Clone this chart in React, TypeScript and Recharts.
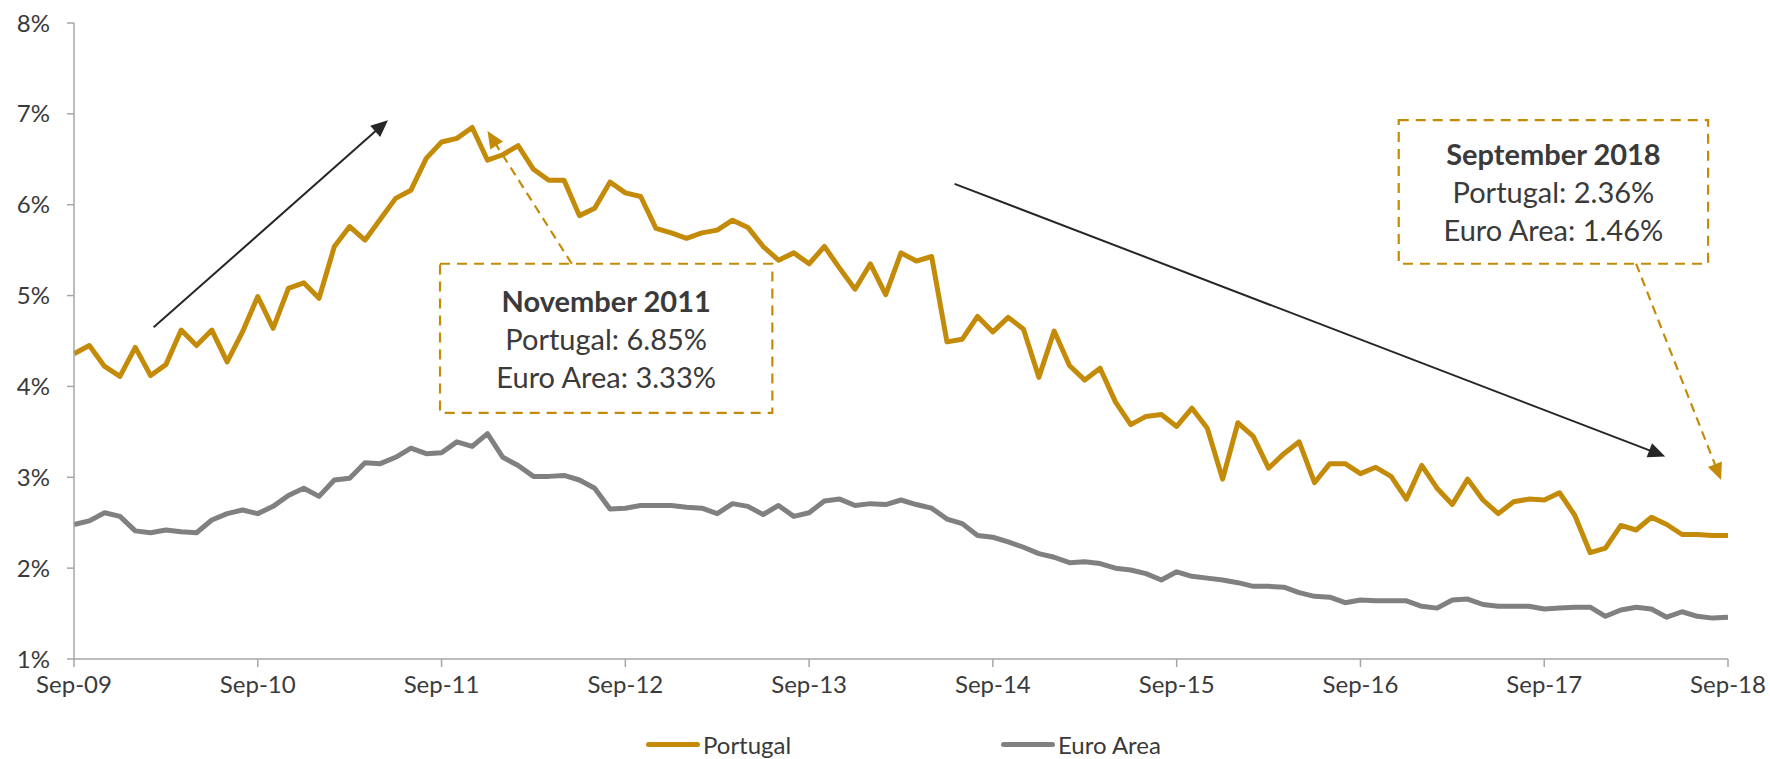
import { LineChart, Line, XAxis, YAxis, ReferenceLine, ReferenceArea, Legend } from 'recharts'

// monthly, Sep-09 .. Sep-18 (109 points)
const X_TICK_LABELS = ['Sep-09', 'Sep-10', 'Sep-11', 'Sep-12', 'Sep-13', 'Sep-14', 'Sep-15', 'Sep-16', 'Sep-17', 'Sep-18']
const Y_TICKS = [1, 2, 3, 4, 5, 6, 7, 8]

const PORTUGAL = [
  4.36, 4.45, 4.22, 4.11, 4.43, 4.12, 4.24, 4.62, 4.45, 4.62, 4.27, 4.60, 4.99, 4.64, 5.08, 5.14, 4.97, 5.54, 5.76,
  5.61, 5.84, 6.07, 6.16, 6.51, 6.69, 6.73, 6.85, 6.49, 6.55, 6.65, 6.39, 6.27, 6.27, 5.88, 5.96, 6.25, 6.13,
  6.09, 5.74, 5.69, 5.63, 5.69, 5.72, 5.83, 5.75, 5.54, 5.39, 5.47, 5.35, 5.54, 5.30, 5.07, 5.35, 5.01, 5.47,
  5.38, 5.43, 4.49, 4.52, 4.77, 4.60, 4.76, 4.63, 4.10, 4.61, 4.23, 4.07, 4.20, 3.83, 3.58, 3.67, 3.69, 3.56,
  3.76, 3.54, 2.98, 3.60, 3.45, 3.10, 3.26, 3.39, 2.94, 3.15, 3.15, 3.04, 3.11, 3.01, 2.76, 3.13, 2.88, 2.70, 2.98,
  2.75, 2.60, 2.73, 2.76, 2.75, 2.83, 2.58, 2.17, 2.22, 2.47, 2.42, 2.56, 2.48, 2.37, 2.37, 2.36, 2.36,
]

const EURO_AREA = [
  2.48, 2.52, 2.61, 2.57, 2.41, 2.39, 2.42, 2.40, 2.39, 2.53, 2.60, 2.64, 2.60, 2.68, 2.80, 2.88, 2.79, 2.97, 2.99,
  3.16, 3.15, 3.22, 3.32, 3.26, 3.27, 3.39, 3.34, 3.48, 3.22, 3.13, 3.01, 3.01, 3.02, 2.97, 2.88, 2.65, 2.66,
  2.69, 2.69, 2.69, 2.67, 2.66, 2.60, 2.71, 2.68, 2.59, 2.69, 2.57, 2.61, 2.74, 2.76, 2.69, 2.71, 2.70, 2.75,
  2.70, 2.66, 2.54, 2.49, 2.36, 2.34, 2.29, 2.23, 2.16, 2.12, 2.06, 2.07, 2.05, 2.00, 1.98, 1.94, 1.87, 1.96,
  1.91, 1.89, 1.87, 1.84, 1.80, 1.80, 1.79, 1.73, 1.69, 1.68, 1.62, 1.65, 1.64, 1.64, 1.64, 1.58, 1.56, 1.65, 1.66,
  1.60, 1.58, 1.58, 1.58, 1.55, 1.56, 1.57, 1.57, 1.47, 1.54, 1.57, 1.55, 1.46, 1.52, 1.47, 1.45, 1.46,
]

const GOLD = '#C48B09'
const GREY = '#808080'
const TEXT = '#3a3a3a'
const FONT = 'Lato, "Open Sans", sans-serif'

const SERIES = [
  { key: 'portugal', name: 'Portugal', color: GOLD },
  { key: 'euro', name: 'Euro Area', color: GREY },
]

// annotations, in data units (month index, %)
const CALLOUTS = [
  { x1: 23.9, x2: 45.6, y1: 3.71, y2: 5.35, title: 'November 2011', lines: ['Portugal: 6.85%', 'Euro Area: 3.33%'] },
  { x1: 86.5, x2: 106.7, y1: 5.35, y2: 6.93, title: 'September 2018', lines: ['Portugal: 2.36%', 'Euro Area: 1.46%'] },
]
const TREND_ARROWS = [
  [{ x: 5.2, y: 4.65 }, { x: 20.5, y: 6.93 }],
  [{ x: 57.5, y: 6.23 }, { x: 103.9, y: 3.23 }],
]
const POINTER_ARROWS = [
  [{ x: 32.5, y: 5.35 }, { x: 27.0, y: 6.81 }],
  [{ x: 102.0, y: 5.35 }, { x: 107.55, y: 2.97 }],
]

const data = PORTUGAL.map((p, i) => ({ i, portugal: p, euro: EURO_AREA[i] }))
const xTicks = X_TICK_LABELS.map((_, k) => k * 12)

function Arrow({ x1, y1, x2, y2, color, width, dash }: any) {
  const dx = x2 - x1
  const dy = y2 - y1
  const len = Math.hypot(dx, dy) || 1
  const ux = dx / len
  const uy = dy / len
  const L = 17
  const W = 7.5
  const bx = x2 - ux * L
  const by = y2 - uy * L
  const head = `${x2},${y2} ${bx - uy * W},${by + ux * W} ${bx + uy * W},${by - ux * W}`
  return (
    <g>
      <line x1={x1} y1={y1} x2={x2 - ux * L * 0.7} y2={y2 - uy * L * 0.7}
        stroke={color} strokeWidth={width} strokeDasharray={dash} />
      <polygon points={head} fill={color} />
    </g>
  )
}

function CalloutBox({ x, y, width, height, title, lines }: any) {
  const cx = x + width / 2
  const cy = y + height / 2
  return (
    <g>
      <rect x={x} y={y} width={width} height={height} fill="#fff" stroke={GOLD} strokeWidth={2.2} strokeDasharray="10 7" />
      <text x={cx} y={cy - 38} textAnchor="middle" dominantBaseline="central"
        style={{ fontFamily: FONT, fontSize: 29, fontWeight: 700, fill: TEXT }}>{title}</text>
      {lines.map((l: string, k: number) => (
        <text key={l} x={cx} y={cy + k * 38} textAnchor="middle" dominantBaseline="central"
          style={{ fontFamily: FONT, fontSize: 29, fill: TEXT }}>{l}</text>
      ))}
    </g>
  )
}

function LegendContent() {
  return (
    <div style={{ display: 'flex', alignItems: 'center', height: 30, paddingLeft: 646, fontFamily: FONT, fontSize: 24, color: TEXT }}>
      {SERIES.map((s, k) => (
        <div key={s.key} style={{ display: 'flex', alignItems: 'center', width: k === 0 ? 355 : undefined }}>
          <span style={{ width: 54, height: 5, borderRadius: 3, background: s.color, marginRight: 3 }} />
          {s.name}
        </div>
      ))}
    </div>
  )
}

export default function App() {
  const tick = { fill: TEXT, fontSize: 24, fontFamily: FONT }
  return (
    <div style={{ position: 'absolute', left: 0, top: 0, width: 1770, height: 759, background: '#fff' }}>
      <LineChart width={1770} height={759} data={data} margin={{ top: 23, right: 42, bottom: 0, left: 0 }}>
        <XAxis
          dataKey="i"
          type="number"
          domain={[0, 108]}
          ticks={xTicks}
          tickFormatter={v => X_TICK_LABELS[Math.round(v / 12)]}
          tick={tick}
          tickSize={8}
          tickMargin={9}
          height={70}
          axisLine={{ stroke: '#a6a6a6', strokeWidth: 1.5 }}
          tickLine={{ stroke: '#a6a6a6', strokeWidth: 1.5 }}
          interval={0}
        />
        <YAxis
          type="number"
          domain={[1, 8]}
          ticks={Y_TICKS}
          tickFormatter={v => `${v}%`}
          tick={tick}
          tickSize={7}
          tickMargin={17}
          width={74}
          axisLine={{ stroke: '#a6a6a6', strokeWidth: 1.5 }}
          tickLine={{ stroke: '#a6a6a6', strokeWidth: 1.5 }}
          interval={0}
        />
        <Legend verticalAlign="bottom" height={30} content={<LegendContent />} wrapperStyle={{ left: 0, width: 1770 }} />

        {CALLOUTS.map(c => (
          <ReferenceArea key={c.title} x1={c.x1} x2={c.x2} y1={c.y1} y2={c.y2} ifOverflow="visible"
            shape={(p: any) => <CalloutBox {...p} title={c.title} lines={c.lines} />} />
        ))}
        {TREND_ARROWS.map((seg, k) => (
          <ReferenceLine key={`t${k}`} segment={seg} ifOverflow="visible"
            shape={(p: any) => <Arrow {...p} color="#262626" width={2} />} />
        ))}
        {POINTER_ARROWS.map((seg, k) => (
          <ReferenceLine key={`p${k}`} segment={seg} ifOverflow="visible"
            shape={(p: any) => <Arrow {...p} color={GOLD} width={2.2} dash="9 6" />} />
        ))}

        <Line type="linear" dataKey="euro" name="Euro Area" stroke={GREY} strokeWidth={5} dot={false}
          strokeLinejoin="round" isAnimationActive={false} />
        <Line type="linear" dataKey="portugal" name="Portugal" stroke={GOLD} strokeWidth={5} dot={false}
          strokeLinejoin="round" isAnimationActive={false} />
      </LineChart>
    </div>
  )
}
